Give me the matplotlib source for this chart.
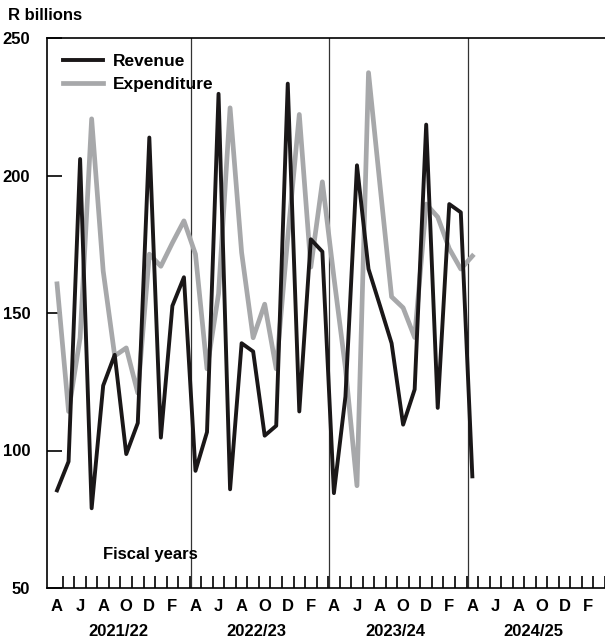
import numpy as np
import matplotlib.pyplot as plt

revenue = [85.5, 96, 206, 79, 123.6, 134.8, 98.7, 110, 213.8, 104.7, 152.6, 163,
           92.6, 106.7, 229.7, 85.9, 139, 136, 105.4, 109, 233.4, 114.2, 176.8, 172.3,
           84.5, 119.6, 203.7, 166, 152.6, 139, 109.4, 122.2, 218.5, 115.5, 189.6, 186.6,
           90.6]
expenditure = [160.6, 114.2, 141, 220.6, 165.3, 134.4, 137.3, 120.9, 171.4, 167, 175.5, 183.5,
               171.4, 129.7, 157, 224.6, 172, 141, 153.2, 129.7, 177.5, 222.2, 166.7, 197.7,
               163, 130, 87.2, 237.4, 196.3, 155.9, 151.9, 141.1, 189.6, 184.9, 173.4, 166,
               170.7]
month_letters = ['A', 'J', 'A', 'O', 'D', 'F']
fiscal_years = ['2021/22', '2022/23', '2023/24', '2024/25']

plt.rcParams['font.family'] = ['Liberation Sans', 'DejaVu Sans']
plt.rcParams['font.weight'] = 'bold'

fig = plt.figure(figsize=(6.05, 6.43), dpi=100)
ax = fig.add_axes([47 / 605, 1 - 588 / 643, 558 / 605, 550 / 643])

x = np.arange(len(revenue))
ax.plot(x, expenditure, color='#a7a8aa', lw=3.4, label='Expenditure', zorder=2)
ax.plot(x, revenue, color='#1a1718', lw=2.8, label='Revenue', zorder=3)

ax.set_xlim(-0.87, 47.4)
ax.set_ylim(50, 250)
for b in [11.6, 23.6, 35.6]:
    ax.axvline(b, color='#333333', lw=0.9, zorder=1)

ax.set_yticks([50, 100, 150, 200, 250])
ax.tick_params(axis='y', direction='in', length=11, width=1.2, labelsize=12, pad=12)
ax.set_xticks(np.arange(48) + 0.5)
ax.set_xticklabels([])
ax.tick_params(axis='x', direction='in', length=9, width=1.2)
for s in ax.spines.values():
    s.set_linewidth(1.2)
ax.spines['right'].set_visible(False)

for yr in range(4):
    for k, m in enumerate(month_letters):
        ax.text(yr * 12 + k * 2, -0.02, m, transform=ax.get_xaxis_transform(),
                ha='center', va='top', fontsize=12)
    ax.text(yr * 12 + 5.3, -0.065, fiscal_years[yr], transform=ax.get_xaxis_transform(),
            ha='center', va='top', fontsize=12)

ax.text(4, 0.06, 'Fiscal years', transform=ax.get_xaxis_transform(), fontsize=12, va='center')
fig.text(8 / 605, 1 - 16 / 643, 'R billions', fontsize=12, va='center')

h, l = ax.get_legend_handles_labels()
ax.legend(h[::-1], l[::-1], loc='upper left', frameon=False, fontsize=12.5,
          handlelength=2.3, borderaxespad=0.5, labelspacing=0.45, handletextpad=0.6)

plt.savefig('out.png', dpi=100)
